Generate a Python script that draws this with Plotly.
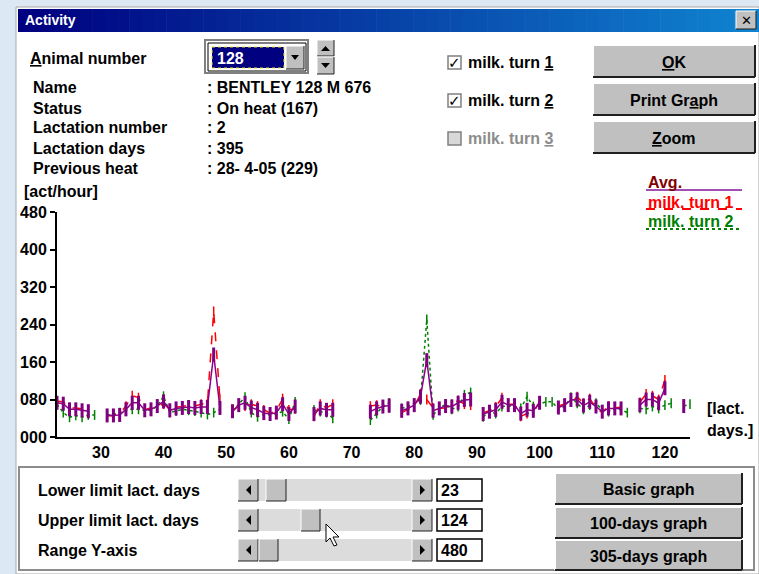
import plotly.graph_objects as go

W, H = 759, 574

# ---------------- data ----------------
days = list(range(23, 125))

avg_act = [
    73, 71, 59, 59, 57, 55, None,                     # 23-29
    None, 46, 46, 47, 59, 73, 73, 57, 59, 66,         # 30-39
    76, 57, 61, 62, 64, 62, 64, 64, 176, 62,          # 40-49
    None, 55, 68, 73, 63, 58, 51, 49, 52, 70,         # 50-59
    49, 65, None, None, 49, 61, 58, 58, None, None,   # 60-69
    None, None, None, 54, 61, 65, 67, None, 56, 61,   # 70-79
    68, 86, 164, 56, 61, 66, 65, 73, 79, 80,          # 80-89
    None, 49, 54, 58, 75, 68, 68, 50, 58, 56,         # 90-99
    73, None, None, 63, 68, 79, 80, 67, 75, 65,       # 100-109
    54, 61, 61, 61, None, None, 68, 80, 80, 72,       # 110-119
    104, None, None, 66, None,                        # 120-124
]

turn1 = [
    76, 75, 62, 62, 60, 58, None,
    None, 46, 45, 50, 66, 88, 84, 58, 62, 67,
    70, 60, 64, 65, 68, 66, 70, 72, 268, 80,
    None, 55, 67, 66, 70, 66, 58, 51, 55, 82,
    58, 60, None, None, 44, 70, 62, 70, None, None,
    None, None, None, 66, 68, 64, 62, None, 52, 58,
    65, 92, 80, 62, 61, 62, 70, 78, 70, 68,
    None, 52, 56, 64, 84, 70, 70, 44, 50, 52,
    75, None, None, 66, 70, 75, 86, 72, 82, 62,
    52, 66, 62, 64, None, None, 74, 92, 88, 80,
    122, None, None, None, None,
]

turn2 = [
    70, 52, 42, 46, 42, 47, 47,
    None, 47, 48, 52, 57, 59, 59, 57, 57, 66,
    87, 52, 55, 59, 57, 55, 52, 48, 52, 59,
    None, 55, 69, 85, 52, 43, 48, 47, 50, 54,
    38, 75, None, None, 58, 54, 52, 40, None, None,
    None, None, None, 36, 50, 65, 73, None, 61, 65,
    72, 79, 251, 47, 61, 70, 59, 65, 90, 95,
    None, 43, 54, 50, 65, 66, 65, 61, 86, 65,
    70, 75, 75, 59, 65, 85, 72, 59, 68, 72,
    58, 54, 61, 58, 52, None, 61, 59, 65, 61,
    68, 72, None, 66, 70,
]

y_tick_vals = [0, 80, 160, 240, 320, 400, 480]
y_tick_text = ["000", "080", "160", "240", "320", "400", "480"]
x_tick_vals = [30, 40, 50, 60, 70, 80, 90, 100, 110, 120]

info_labels = ["Name", "Status", "Lactation number", "Lactation days", "Previous heat"]
info_values = [": BENTLEY 128 M 676", ": On heat (167)", ": 2", ": 395", ": 28- 4-05 (229)"]

# ---------------- styling helpers ----------------
BOLD = "Liberation Sans"
GRAY = "#C0C0C0"

def X(px):
    return px / W

def Y(py):
    return 1 - py / H

shapes = []
annots = []

def rect(x0, y0, x1, y1, fill=None, line=None, lw=1, dash=None):
    d = dict(type="rect", xref="paper", yref="paper",
             x0=X(x0), x1=X(x1), y0=Y(y1), y1=Y(y0), layer="below")
    d["fillcolor"] = fill if fill else "rgba(0,0,0,0)"
    if line:
        d["line"] = dict(color=line, width=lw)
        if dash:
            d["line"]["dash"] = dash
    else:
        d["line"] = dict(width=0)
    shapes.append(d)

def seg(x0, y0, x1, y1, color, lw=1, dash=None, layer="below"):
    d = dict(type="line", xref="paper", yref="paper",
             x0=X(x0), x1=X(x1), y0=Y(y0), y1=Y(y1),
             line=dict(color=color, width=lw), layer=layer)
    if dash:
        d["line"]["dash"] = dash
    shapes.append(d)

def poly(pts, fill, line=None, lw=1, layer="below"):
    path = "M " + " L ".join(f"{X(px):.5f},{Y(py):.5f}" for px, py in pts) + " Z"
    d = dict(type="path", xref="paper", yref="paper", path=path,
             fillcolor=fill, layer=layer)
    d["line"] = dict(color=line, width=lw) if line else dict(width=0)
    shapes.append(d)

def text(px, py, s, size=16, color="black", family=BOLD, weight="bold",
         xanchor="left", yanchor="middle"):
    annots.append(dict(x=X(px), y=Y(py), xref="paper", yref="paper", text=s,
                       showarrow=False, xanchor=xanchor, yanchor=yanchor,
                       font=dict(size=size, color=color, family=family, weight=weight)))

def raised(x0, y0, x1, y1, w=2):
    rect(x0, y0, x1, y1, fill=GRAY)
    seg(x0, y0, x1, y0, "white", w)
    seg(x0, y0, x0, y1, "white", w)
    seg(x0, y1, x1, y1, "#202020", w)
    seg(x1, y0, x1, y1, "#202020", w)

def button(x0, y0, x1, y1, label, size=16):
    raised(x0, y0, x1, y1)
    text((x0 + x1) / 2, (y0 + y1) / 2 + 1, label, size=size, xanchor="center")

def u(ch):
    return f"<span style='text-decoration:underline'>{ch}</span>"

# ---------------- window frame ----------------
rect(16, 7, 759, 574, fill="white", line="#A8A8A8", lw=1)
n = 60
for i in range(n):
    t = i / (n - 1)
    r = int(0 + 16 * t)
    g = int(0 + 132 * t)
    b = int(128 + 80 * t)
    xa = 18 + (759 - 18) * i / n
    xb = 18 + (759 - 18) * (i + 1) / n + 0.6
    rect(xa, 9, xb, 32, fill=f"rgb({r},{g},{b})")
text(23, 20, "Activity", size=14, color="white")
raised(736, 11, 756, 29, w=1)
text(746, 20, "✕", size=13, family="DejaVu Sans", xanchor="center")

# ---------------- top controls ----------------
text(28, 58, u("A") + "nimal number", size=16)
rect(205, 40, 308, 73, fill="white", line="#808080", lw=2)
rect(208, 43, 306, 71, fill="white", line="black", lw=1)
rect(212, 47, 284, 68, fill="#000080", line="#E8E020", lw=1, dash="dot")
text(215, 58, "128", size=16, color="white")
raised(286, 46, 304, 69, w=1)
poly([(291, 55), (299, 55), (295, 60)], "black")
raised(317, 40, 334, 56, w=1)
raised(317, 57, 334, 74, w=1)
poly([(321, 51), (330, 51), (325.5, 46)], "black")
poly([(321, 63), (330, 63), (325.5, 68)], "black")

for i, (lab, val) in enumerate(zip(info_labels, info_values)):
    text(31, 88 + 20 * i, lab, size=16)
    text(205, 88 + 20 * i, val, size=16)

for i, (yc, lab) in enumerate([(62, "milk. turn " + u("1")),
                               (100, "milk. turn " + u("2")),
                               (138, "milk. turn " + u("3"))]):
    enabled = i < 2
    rect(448, yc - 6, 461, yc + 7, fill="white" if enabled else "#D8D8D8",
         line="#808080", lw=1.5)
    if enabled:
        text(454.5, yc + 1, "✓", size=15, family="DejaVu Sans", xanchor="center")
    text(466, yc, lab, size=16, color="black" if enabled else "#8C8C8C")

button(593, 45, 755, 77, u("O") + "K")
button(593, 83, 755, 115, "Print Gr" + u("a") + "ph")
button(593, 121, 755, 153, u("Z") + "oom")

# legend
text(646, 182, "Avg.", size=16, color="#800000")
seg(646, 190, 742, 190, "#A050B0", 2)
text(646, 202, "milk. turn 1", size=16, color="#FF0000")
seg(646, 209, 742, 209, "#FF0000", 2, dash="dash")
text(646, 221, "milk. turn 2", size=16, color="#008000")
seg(646, 229, 742, 229, "#008000", 2, dash="dot")

text(22, 191, "[act/hour]", size=16)
text(705, 408, "[lact.", size=16)
text(705, 430, "days.]", size=16)

# ---------------- bottom panel ----------------
rect(19, 467, 754, 570, fill="white", line="#8C8C8C", lw=2)
rows = [(490, "Lower limit lact. days", (266, 286), "23"),
        (520, "Upper limit lact. days", (301, 320), "124"),
        (550, "Range Y-axis", (259, 278), "480")]
for yc, lab, (t0, t1), val in rows:
    text(36, yc, lab, size=16)
    rect(238, yc - 11, 432, yc + 11, fill="#DCDCDC")
    raised(238, yc - 11, 258, yc + 11, w=1)
    raised(412, yc - 11, 432, yc + 11, w=1)
    raised(t0, yc - 11, t1, yc + 11, w=1)
    poly([(251, yc - 5), (251, yc + 5), (246, yc)], "black")
    poly([(420, yc - 5), (420, yc + 5), (425, yc)], "black")
    rect(437, yc - 11, 482, yc + 11, fill="white", line="black", lw=1.5)
    text(439, yc, val, size=16)

button(555, 473, 742, 504, "Basic graph", size=16)
button(555, 507, 742, 538, "100-days graph", size=16)
button(555, 540, 742, 570, "305-days graph", size=16)

# mouse cursor
poly([(326, 524), (326, 542), (330, 538), (334, 546), (337, 545), (333, 537), (339, 537)],
     "white", line="black", lw=1, layer="above")

# ---------------- chart ----------------
fig = go.Figure()
fig.add_trace(go.Scatter(
    x=days, y=turn2, mode="lines+markers", cliponaxis=False, showlegend=False,
    line=dict(color="#008000", width=1.5, dash="dot"),
    marker=dict(symbol="line-ns", size=7, line=dict(color="#008000", width=1.5))))
fig.add_trace(go.Scatter(
    x=days, y=turn1, mode="lines+markers", cliponaxis=False, showlegend=False,
    line=dict(color="#FF0000", width=1.5, dash="dash"),
    marker=dict(symbol="line-ns", size=7, line=dict(color="#FF0000", width=1.5))))
fig.add_trace(go.Scatter(
    x=days, y=avg_act, mode="lines+markers", cliponaxis=False, showlegend=False,
    line=dict(color="#8B008B", width=1.5),
    marker=dict(symbol="line-ns", size=10, line=dict(color="#800080", width=3))))

fig.update_layout(
    width=W, height=H, autosize=False,
    margin=dict(l=0, r=0, t=0, b=0, pad=0),
    paper_bgcolor="#DCE8F4",
    plot_bgcolor="white",
    shapes=shapes,
    annotations=annots,
    xaxis=dict(domain=[X(57), X(690)], range=[23, 124], showgrid=False, automargin=False,
               zeroline=False, showline=True, linecolor="black", linewidth=2,
               tickvals=x_tick_vals, ticks="",
               tickfont=dict(family=BOLD, size=16, color="black", weight="bold")),
    yaxis=dict(domain=[Y(437), Y(212)], range=[0, 480], showgrid=False, automargin=False,
               zeroline=False, showline=True, linecolor="black", linewidth=2,
               tickvals=y_tick_vals, ticktext=y_tick_text, ticks="outside",
               ticklen=5, tickcolor="black", tickwidth=2,
               tickfont=dict(family=BOLD, size=16, color="black", weight="bold")),
)

post = (
    "var s=document.createElement('style');"
    "s.textContent='html,body{margin:0;padding:0;overflow:hidden}';"
    "document.head.appendChild(s);"
)
fig.write_html("out.html", config=dict(displayModeBar=False), post_script=post)
